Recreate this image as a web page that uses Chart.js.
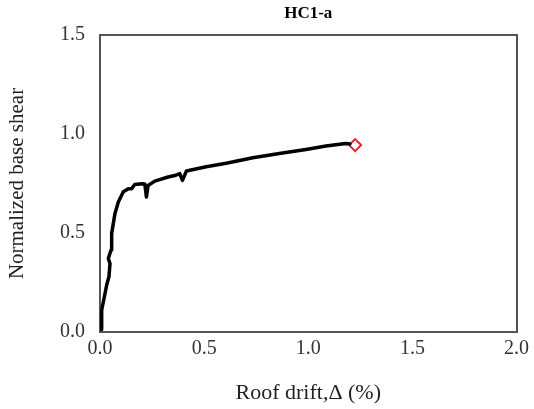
<!DOCTYPE html>
<html>
<head>
<meta charset="utf-8">
<script src="https://cdn.jsdelivr.net/npm/chart.js@4"></script>
<style>
  html, body { margin: 0; padding: 0; background: #fff; }
  #wrap { width: 534px; height: 409px; }
</style>
</head>
<body>
<div id="wrap"><canvas id="myChart" width="534" height="409"></canvas></div>
<script>
// pushover curve
const drift = [0.005, 0.008, 0.021, 0.032, 0.043, 0.048, 0.040, 0.053, 0.056, 0.072, 0.088, 0.112, 0.136, 0.152, 0.167, 0.200, 0.215, 0.223, 0.231, 0.263, 0.327, 0.359, 0.383, 0.396, 0.415, 0.510, 0.606, 0.734, 0.861, 0.989, 1.085, 1.180, 1.200];
const shear = [0.013, 0.110, 0.178, 0.237, 0.279, 0.346, 0.371, 0.414, 0.498, 0.599, 0.657, 0.708, 0.724, 0.724, 0.745, 0.749, 0.748, 0.682, 0.740, 0.762, 0.783, 0.790, 0.800, 0.766, 0.813, 0.835, 0.852, 0.880, 0.902, 0.922, 0.939, 0.952, 0.950];
const peakDrift = [1.225];
const peakShear = [0.944];
const xTicks = [0, 0.5, 1.0, 1.5, 2.0];
const yTicks = [0, 0.5, 1.0, 1.5];

const serif = '"Liberation Serif", "Times New Roman", serif';
const frameColor = '#555';

function fixWidth(w) { return (scale) => { scale.width = w; }; }
function fixHeight(h) { return (scale) => { scale.height = h; }; }

document.addEventListener('DOMContentLoaded', () => {
    const ctx = document.getElementById('myChart').getContext('2d');

    const data = {
        datasets: [{
            label: 'HC1-a',
            data: drift.map((d, i) => ({ x: d, y: shear[i] })),
            showLine: true,
            borderColor: '#000',
            borderWidth: 3.5,
            borderJoinStyle: 'round',
            borderCapStyle: 'round',
            pointRadius: 0,
            tension: 0,
            xAxisID: 'x',
            yAxisID: 'y'
        }, {
            label: 'peak',
            data: peakDrift.map((d, i) => ({ x: d, y: peakShear[i] })),
            showLine: false,
            pointStyle: 'rectRot',
            pointRadius: 6,
            borderColor: '#e8202a',
            backgroundColor: '#fff',
            borderWidth: 2,
            xAxisID: 'x',
            yAxisID: 'y'
        }]
    };

    const tickFont = { family: serif, size: 20 };

    new Chart(ctx, {
        type: 'scatter',
        data: data,
        options: {
            responsive: false,
            animation: false,
            layout: { padding: 0 },
            plugins: {
                legend: { display: false },
                tooltip: { enabled: false },
                title: { display: false }
            },
            scales: {
                x: {
                    type: 'linear',
                    position: 'bottom',
                    min: 0,
                    max: 2,
                    afterBuildTicks: (scale) => { scale.ticks = xTicks.map(v => ({ value: v })); },
                    afterFit: fixHeight(77),
                    grid: { display: false, drawTicks: false },
                    border: { display: true, color: frameColor, width: 2 },
                    ticks: {
                        font: tickFont,
                        color: '#333',
                        padding: 5,
                        maxRotation: 0,
                        callback: (v) => Number(v).toFixed(1)
                    },
                    title: {
                        display: true,
                        text: 'Roof drift,Δ (%)',
                        font: { family: serif, size: 22 },
                        color: '#222',
                        padding: { top: 0, bottom: 3 }
                    }
                },
                x2: {
                    type: 'linear',
                    position: 'top',
                    min: 0,
                    max: 2,
                    afterFit: fixHeight(35),
                    grid: { display: false, drawTicks: false },
                    border: { display: true, color: frameColor, width: 2 },
                    ticks: { display: false },
                    title: {
                        display: true,
                        text: 'HC1-a',
                        font: { family: serif, size: 17, weight: 'bold' },
                        color: '#000',
                        padding: { top: 3, bottom: 0 }
                    }
                },
                y: {
                    type: 'linear',
                    position: 'left',
                    min: 0,
                    max: 1.5,
                    afterBuildTicks: (scale) => { scale.ticks = yTicks.map(v => ({ value: v })); },
                    afterFit: fixWidth(100),
                    grid: { display: false, drawTicks: false },
                    border: { display: true, color: frameColor, width: 2 },
                    ticks: {
                        font: tickFont,
                        color: '#333',
                        padding: 15,
                        callback: (v) => Number(v).toFixed(1)
                    },
                    title: {
                        display: true,
                        text: 'Normalized base shear',
                        font: { family: serif, size: 21 },
                        color: '#222',
                        padding: { top: 5, bottom: 0 }
                    }
                },
                y2: {
                    type: 'linear',
                    position: 'right',
                    min: 0,
                    max: 1.5,
                    afterFit: fixWidth(16),
                    grid: { display: false, drawTicks: false },
                    border: { display: true, color: frameColor, width: 2 },
                    ticks: { display: false }
                }
            }
        }
    });
});
</script>
</body>
</html>
